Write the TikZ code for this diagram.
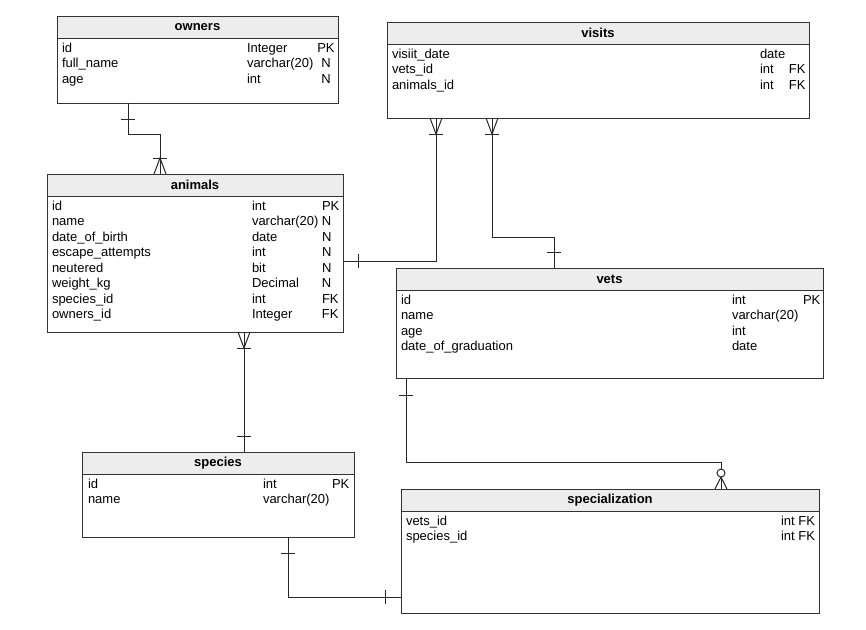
\documentclass[tikz,border=0pt]{standalone}
\usepackage{fontspec}
\setmainfont{Liberation Sans}
\usepackage{array}
\setlength{\tabcolsep}{0pt}
\begin{document}
\begin{tikzpicture}[x=1pt,y=-1pt,line width=1pt,
  every node/.style={font=\fontsize{13}{15.5}\selectfont},
  tbl/.style={draw=black!80,fill=white,inner sep=0pt,outer sep=0pt,rectangle,anchor=north west},
  hdr/.style={draw=black!80,fill=black!7,inner sep=0pt,outer sep=0pt,minimum height=22pt,anchor=north,font=\fontsize{13}{15.5}\selectfont\bfseries},
  body/.style={inner sep=0pt,outer sep=0pt,anchor=north west},
  conn/.style={draw=black!85,line width=1pt},
  mk/.style={draw=black!85,line width=1pt},
  barh/.pic={\draw[mk] (-7,0) -- (7,0);},
  barv/.pic={\draw[mk] (0,-7) -- (0,7);},
  manyabove/.pic={\draw[mk] (-6,0) -- (0,16) -- (6,0); \draw[mk] (-7,16) -- (7,16);},
  manybelow/.pic={\draw[mk] (-6,0) -- (0,-16) -- (6,0); \draw[mk] (-7,-16) -- (7,-16);},
  zeromanybelow/.pic={\draw[mk] (-6,0) -- (0,-12) -- (6,0); \draw[mk] (0,0) -- (0,-12); \draw[mk,fill=white] (0,-16) circle[radius=4pt];},
]
\useasboundingbox (0,0) rectangle (866,629);

% owners
\node[tbl,minimum width=281pt,minimum height=87pt] (owners) at (57,16) {};
\node[hdr,minimum width=281pt] (ownersH) at (owners.north) {owners};
\node[body] (ownersB) at ([xshift=5pt,yshift=-25.2pt]owners.north west)
 {\begin{tabular}{@{}p{185pt}p{70pt}>{\centering\arraybackslash}p{18pt}@{}}
 id & Integer & PK\\ full\_name & varchar(20) & N\\ age & int & N
 \end{tabular}};

% visits
\node[tbl,minimum width=422pt,minimum height=96pt] (visits) at (387,22) {};
\node[hdr,minimum width=422pt] (visitsH) at (visits.north) {visits};
\node[body] (visitsB) at ([xshift=5pt,yshift=-25.2pt]visits.north west)
 {\begin{tabular}{@{}p{368pt}p{29pt}l@{}}
 visiit\_date & date & \\ vets\_id & int & FK\\ animals\_id & int & FK
 \end{tabular}};

% animals
\node[tbl,minimum width=296pt,minimum height=158pt] (animals) at (47,174) {};
\node[hdr,minimum width=296pt] (animalsH) at (animals.north) {animals};
\node[body] (animalsB) at ([xshift=5pt,yshift=-25.2pt]animals.north west)
 {\begin{tabular}{@{}p{200pt}p{70pt}l@{}}
 id & int & PK\\ name & varchar(20) & N\\ date\_of\_birth & date & N\\
 escape\_attempts & int & N\\ neutered & bit & N\\ weight\_kg & Decimal & N\\
 species\_id & int & FK\\ owners\_id & Integer & FK
 \end{tabular}};

% vets
\node[tbl,minimum width=427pt,minimum height=110pt] (vets) at (396,268) {};
\node[hdr,minimum width=427pt] (vetsH) at (vets.north) {vets};
\node[body] (vetsB) at ([xshift=5pt,yshift=-25.2pt]vets.north west)
 {\begin{tabular}{@{}p{331pt}p{71pt}l@{}}
 id & int & PK\\ name & varchar(20) & \\ age & int & \\ date\_of\_graduation & date &
 \end{tabular}};

% species
\node[tbl,minimum width=272pt,minimum height=85pt] (species) at (82,452) {};
\node[hdr,minimum width=272pt] (speciesH) at (species.north) {species};
\node[body] (speciesB) at ([xshift=6pt,yshift=-25.2pt]species.north west)
 {\begin{tabular}{@{}p{175pt}p{69pt}l@{}}
 id & int & PK\\ name & varchar(20) &
 \end{tabular}};

% specialization
\node[tbl,minimum width=418pt,minimum height=124pt] (spec) at (401,489) {};
\node[hdr,minimum width=418pt] (specH) at (spec.north) {specialization};
\node[body] (specB) at ([xshift=5pt,yshift=-25.2pt]spec.north west)
 {\begin{tabular}{@{}p{375pt}>{\raggedleft\arraybackslash}p{34pt}@{}}
 vets\_id & int FK\\ species\_id & int FK
 \end{tabular}};

% connector end points
\coordinate (A) at ([xshift=71pt]owners.south west);
\coordinate (B) at ([xshift=113pt]animals.north west);
\coordinate (C) at ([yshift=-87pt]animals.north east);
\coordinate (D) at ([xshift=49pt]visits.south west);
\coordinate (E) at ([xshift=105pt]visits.south west);
\coordinate (F) at ([xshift=158pt]vets.north west);
\coordinate (G) at ([xshift=197pt]animals.south west);
\coordinate (H) at (G |- species.north);
\coordinate (I) at ([xshift=10pt]vets.south west);
\coordinate (J) at ([xshift=320pt]spec.north west);
\coordinate (K) at ([xshift=206pt]species.south west);
\coordinate (L) at ([yshift=16pt]spec.south west);

% owners - animals
\draw[conn] (A) -- ++(0,31) -| (B);
\path ([yshift=-16pt]A) pic {barh};
\path (B) pic {manybelow};
% animals - visits
\draw[conn] (C) -| (D);
\path ([xshift=15pt]C) pic {barv};
\path (D) pic {manyabove};
% visits - vets
\draw[conn] (E) -- ++(0,119) -| (F);
\path (E) pic {manyabove};
\path ([yshift=16pt]F) pic {barh};
% animals - species
\draw[conn] (G) -- (H);
\path (G) pic {manyabove};
\path ([yshift=16pt]H) pic {barh};
% vets - specialization
\draw[conn] (I) -- ++(0,84) -| (J);
\path ([yshift=-17pt]I) pic {barh};
\path (J) pic {zeromanybelow};
% species - specialization
\draw[conn] (K) |- (L);
\path ([yshift=-16pt]K) pic {barh};
\path ([xshift=-16pt]L) pic {barv};
\end{tikzpicture}
\end{document}
